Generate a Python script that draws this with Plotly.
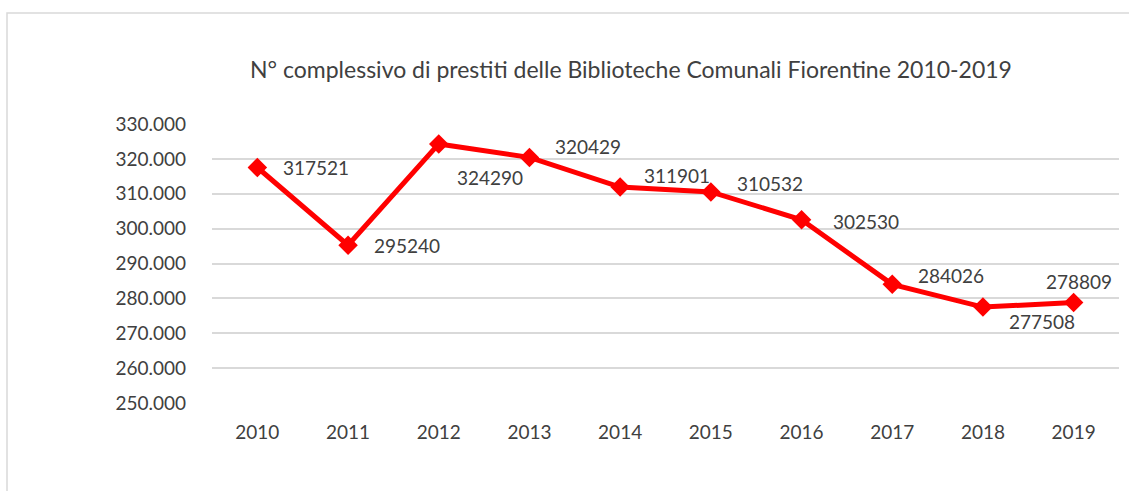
import plotly.graph_objects as go

years = ["2010", "2011", "2012", "2013", "2014", "2015", "2016", "2017", "2018", "2019"]
loans = [317521, 295240, 324290, 320429, 311901, 310532, 302530, 284026, 277508, 278809]
y_ticks = [250000, 260000, 270000, 280000, 290000, 300000, 310000, 320000, 330000]

# label offsets in pixels (dx right, dy down) relative to each point
label_dx = [24, 24, 16, 24, 22, 24, 29, 24, 24, -30]
label_dy = [0, 0, 34, -11, -12, -8, 2, -9, 14, -21]

FONT = "Lato, 'Open Sans', sans-serif"
TXT = "#404040"
RED = "#FF0000"
GRID = "#D9D9D9"

fig = go.Figure()
fig.add_trace(go.Scatter(
    x=years, y=loans, mode="lines+markers",
    line=dict(color=RED, width=5),
    marker=dict(symbol="diamond", size=15, color=RED),
    hoverinfo="x+y", showlegend=False,
))

for i, (v, dx, dy) in enumerate(zip(loans, label_dx, label_dy)):
    fig.add_annotation(
        x=i, y=v, xref="x", yref="y", text=str(v), showarrow=False,
        xanchor="left", yanchor="middle", xshift=dx, yshift=-dy,
        font=dict(family=FONT, size=19, color=TXT),
    )

# outer chart border
L, R, T, B = 212, 10, 124, 88
W, H = 1129, 491
pw, ph = W - L - R, H - T - B
fig.add_shape(
    type="rect", xref="paper", yref="paper",
    x0=(7 - L) / pw, x1=(W + 10 - L) / pw,
    y0=(H - B - (H + 10)) / ph, y1=(H - B - 13) / ph,
    line=dict(color=GRID, width=1.5), fillcolor="rgba(0,0,0,0)", layer="below",
)

fig.update_layout(
    width=W, height=H,
    margin=dict(l=L, r=R, t=T, b=B, pad=0),
    paper_bgcolor="white", plot_bgcolor="white",
    separators=",.",
    font=dict(family=FONT, size=19, color=TXT),
    title=dict(
        text="N° complessivo di prestiti delle Biblioteche Comunali Fiorentine 2010-2019",
        x=631 / W, xref="container", xanchor="center",
        y=1 - 70 / H, yref="container", yanchor="middle",
        font=dict(family=FONT, size=23, color=TXT),
    ),
    xaxis=dict(
        type="category", range=[-0.5, 9.5], showgrid=False, zeroline=False,
        showline=False, ticks="", ticklabelstandoff=16,
        tickfont=dict(family=FONT, size=19, color=TXT),
    ),
    yaxis=dict(
        range=[250000, 330000], tickvals=y_ticks, tickformat=",d",
        showgrid=True, gridcolor=GRID, gridwidth=1.5, zeroline=False,
        showline=False, ticks="", ticklabelstandoff=25,
        tickfont=dict(family=FONT, size=19, color=TXT),
    ),
)

fig.write_html(
    "out.html",
    config={"displayModeBar": False},
    post_script="document.body.style.margin='0';document.body.style.overflow='hidden';",
)
